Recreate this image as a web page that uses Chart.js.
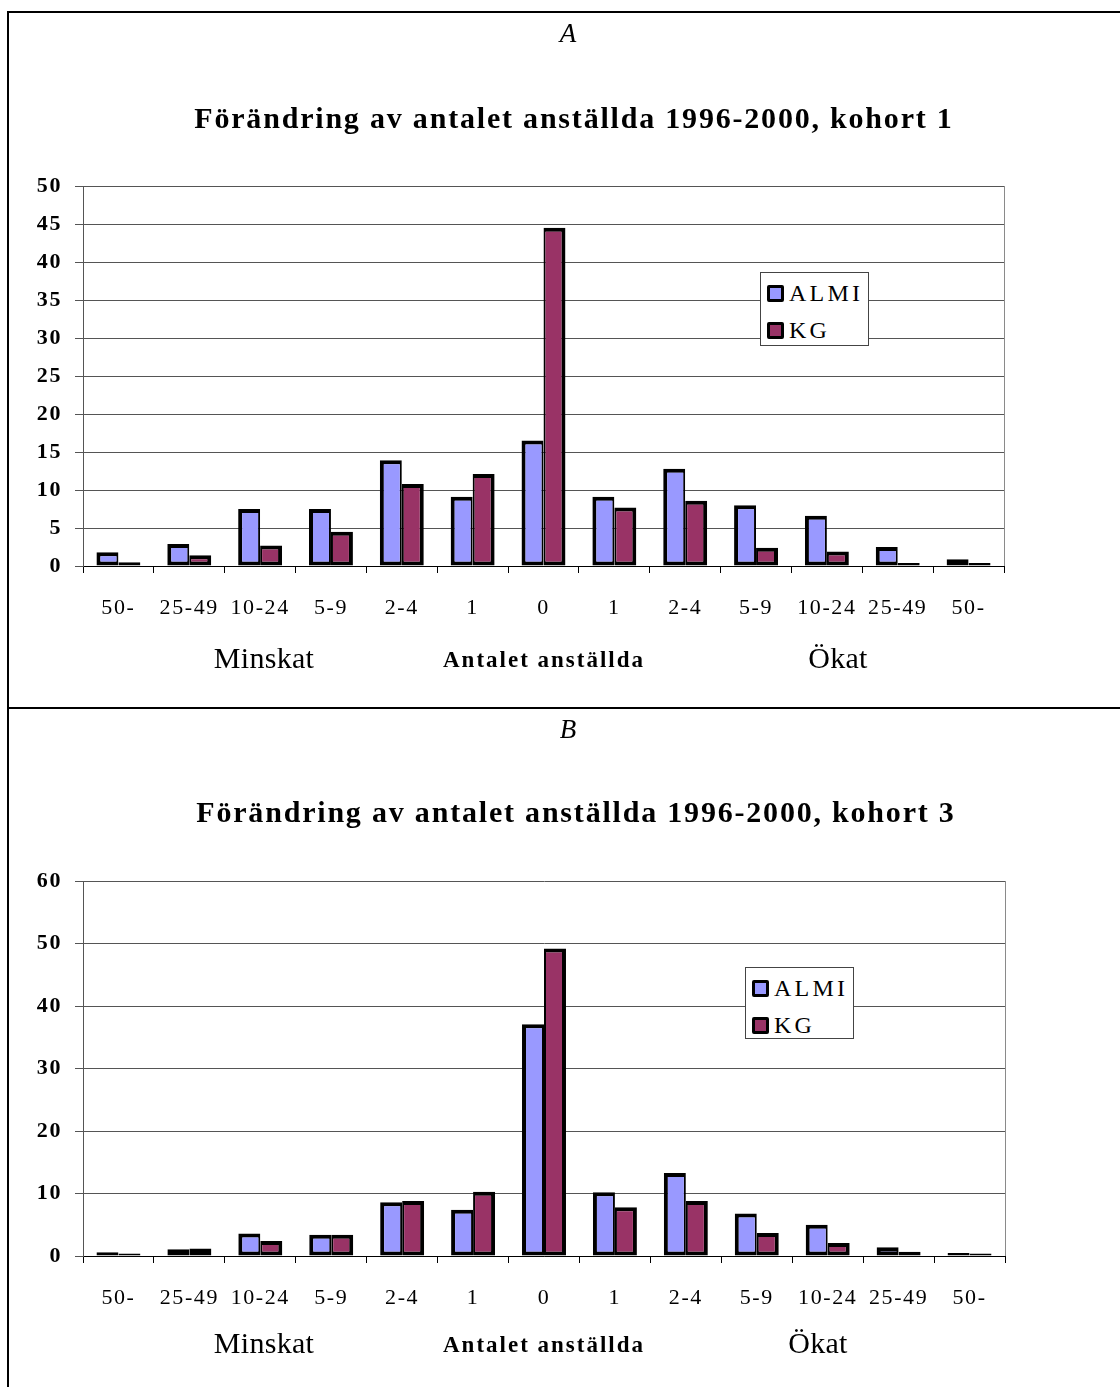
<!DOCTYPE html>
<html lang="sv">
<head>
<meta charset="utf-8">
<title>Förändring av antalet anställda 1996-2000</title>
<script src="https://cdn.jsdelivr.net/npm/chart.js@4.4.0/dist/chart.umd.min.js"></script>
<style>
  html, body { margin: 0; padding: 0; background: #fff; }
  #page { position: relative; width: 1120px; height: 1387px; overflow: hidden; background: #fff;
          font-family: "Liberation Serif", "DejaVu Serif", serif; color: #000; }
  .rule { position: absolute; background: #000; }
  .panel { position: absolute; left: 0; width: 1120px; }
  .panel canvas { position: absolute; left: 0; top: 0; }
  .txt { position: absolute; transform: translate(-50%, -50%); white-space: nowrap; line-height: 1; }
  .letter { font-style: italic; font-size: 27px; }
  .title { font-weight: bold; font-size: 30px; letter-spacing: 1.8px; }
  .group { font-size: 30px; letter-spacing: 0.3px; }
  .axisname { font-weight: bold; font-size: 23px; letter-spacing: 2px; }
  .legend { position: absolute; border: 1px solid #444; background: #fff; box-sizing: border-box; }
  .legend .item { position: absolute; left: 6px; display: flex; align-items: center; font-size: 24px; letter-spacing: 3.2px; line-height: 1; }
  .legend .swatch { width: 11px; height: 11px; border: 3px solid #000; border-radius: 2px; margin-right: 5px; }
</style>
</head>
<body>
<div id="page">
  <div class="rule" style="left:7px; top:11px; width:1113px; height:2px;"></div>
  <div class="rule" style="left:7px; top:11px; width:2px; height:1376px;"></div>
  <div class="rule" style="left:7px; top:707px; width:1113px; height:2px;"></div>
</div>
<script>
// Size classes of the change in number of employees (decreased | unchanged | increased)
const categories = ['50-', '25-49', '10-24', '5-9', '2-4', '1', '0', '1', '2-4', '5-9', '10-24', '25-49', '50-'];
const seriesNames = ['ALMI', 'KG'];
const seriesColors = ['#9999FF', '#993366'];

// Share of firms (%) per class, cohort 1
const almiKohort1 = [1.8, 2.9, 7.5, 7.5, 13.9, 9.1, 16.5, 9.1, 12.8, 8.0, 6.6, 2.5, 0.9];
const kgKohort1   = [0.5, 1.4, 2.7, 4.5, 10.8, 12.1, 44.5, 7.7, 8.6, 2.4, 1.9, 0.4, 0.4];

// Share of firms (%) per class, cohort 3
const almiKohort3 = [0.6, 1.1, 3.6, 3.4, 8.6, 7.4, 37.1, 10.2, 13.3, 6.8, 5.0, 1.4, 0.5];
const kgKohort3   = [0.4, 1.2, 2.4, 3.4, 8.8, 10.3, 49.2, 7.8, 8.8, 3.7, 2.1, 0.7, 0.4];

const groupLabels = ['Minskat', 'Antalet anställda', 'Ökat'];

// Draws the right-hand edge of the plot frame and sets text spacing on the canvas
const frameEdge = {
  id: 'frameEdge',
  beforeDraw(chart) { chart.ctx.letterSpacing = '1.6px'; },
  afterDraw(chart) {
    const { ctx, chartArea: a } = chart;
    ctx.save();
    ctx.strokeStyle = '#8a8a8a';
    ctx.lineWidth = 1;
    ctx.beginPath();
    ctx.moveTo(Math.round(a.right) + 0.5, a.top);
    ctx.lineTo(Math.round(a.right) + 0.5, a.bottom);
    ctx.stroke();
    ctx.restore();
  }
};

function addText(parent, cls, text, x, y) {
  const d = document.createElement('div');
  d.className = 'txt ' + cls;
  d.textContent = text;
  d.style.left = x + 'px';
  d.style.top = y + 'px';
  parent.appendChild(d);
  return d;
}

function buildPanel(p) {
  const page = document.getElementById('page');
  const panel = document.createElement('div');
  panel.className = 'panel';
  panel.style.top = p.top + 'px';
  panel.style.height = p.height + 'px';
  page.appendChild(panel);

  const canvas = document.createElement('canvas');
  canvas.width = 1120;
  canvas.height = p.height;
  canvas.style.width = '1120px';
  canvas.style.height = p.height + 'px';
  panel.appendChild(canvas);

  addText(panel, 'letter', p.letter, 568, p.letterY);
  addText(panel, 'title', p.title, p.titleX, p.titleY);
  addText(panel, 'group', groupLabels[0], 264, p.groupY);
  addText(panel, 'axisname', groupLabels[1], 544, p.groupY + 1);
  addText(panel, 'group', groupLabels[2], p.okatX, p.groupY);

  // Outer edges get the full border, the shared middle edge half of it
  const edge = (outer, inner, side) => side === 0
    ? { top: outer, left: outer, bottom: outer, right: inner }
    : { top: outer, left: inner, bottom: outer, right: outer };

  const series = [p.almi, p.kg];
  const chart = new Chart(canvas, {
    type: 'bar',
    data: {
      labels: categories,
      datasets: series.map((vals, i) => ({
        label: seriesNames[i],
        data: vals,
        backgroundColor: seriesColors[i],
        borderColor: '#000',
        borderWidth: edge(4, 2, i),
        borderSkipped: false,
        categoryPercentage: 0.62,
        barPercentage: 1.0
      }))
    },
    options: {
      responsive: false,
      animation: false,
      devicePixelRatio: 1,
      layout: { padding: { top: p.plotTop, left: 0, right: 1120 - p.plotRight, bottom: p.height - p.plotBottom - 60 } },
      plugins: { legend: { display: false }, tooltip: { enabled: false }, title: { display: false } },
      scales: {
        x: {
          afterFit(scale) { scale.height = 60; },
          grid: { offset: true, drawOnChartArea: false, tickLength: 7, color: '#000', lineWidth: 1 },
          border: { color: '#000', width: 1 },
          ticks: {
            color: '#000', maxRotation: 0, minRotation: 0, autoSkip: false, padding: 22,
            font: { family: '"Liberation Serif", serif', size: 22 }
          }
        },
        y: {
          min: 0, max: p.yMax,
          afterFit(scale) { scale.width = 83; },
          grid: { color: '#555', lineWidth: 1, tickLength: 8 },
          border: { color: '#555', width: 1 },
          ticks: {
            stepSize: p.yStep, color: '#000', padding: 13,
            font: { family: '"Liberation Serif", serif', size: 22, weight: 'bold' }
          }
        }
      }
    },
    plugins: [frameEdge]
  });

  // Legend box built from the chart's own legend items
  const lg = document.createElement('div');
  lg.className = 'legend';
  lg.style.left = p.legend.x + 'px';
  lg.style.top = p.legend.y + 'px';
  lg.style.width = p.legend.w + 'px';
  lg.style.height = p.legend.h + 'px';
  const items = Chart.defaults.plugins.legend.labels.generateLabels(chart);
  items.forEach((it, i) => {
    const row = document.createElement('div');
    row.className = 'item';
    row.style.top = (8 + i * 37) + 'px';
    const sw = document.createElement('span');
    sw.className = 'swatch';
    sw.style.background = chart.data.datasets[it.datasetIndex].backgroundColor;
    const tx = document.createElement('span');
    tx.textContent = it.text;
    row.appendChild(sw);
    row.appendChild(tx);
    lg.appendChild(row);
  });
  panel.appendChild(lg);
  return chart;
}

buildPanel({
  top: 0, height: 700,
  letter: 'A', letterY: 33,
  title: 'Förändring av antalet anställda 1996-2000, kohort 1', titleX: 574, titleY: 118,
  plotTop: 186, plotBottom: 566, plotRight: 1004,
  yMax: 50, yStep: 5,
  almi: almiKohort1, kg: kgKohort1,
  groupY: 658, okatX: 838,
  legend: { x: 760, y: 272, w: 109, h: 74 }
});

buildPanel({
  top: 700, height: 687,
  letter: 'B', letterY: 29,
  title: 'Förändring av antalet anställda 1996-2000, kohort 3', titleX: 576, titleY: 112,
  plotTop: 181, plotBottom: 556, plotRight: 1005,
  yMax: 60, yStep: 10,
  almi: almiKohort3, kg: kgKohort3,
  groupY: 643, okatX: 818,
  legend: { x: 745, y: 267, w: 109, h: 72 }
});
</script>
</body>
</html>
